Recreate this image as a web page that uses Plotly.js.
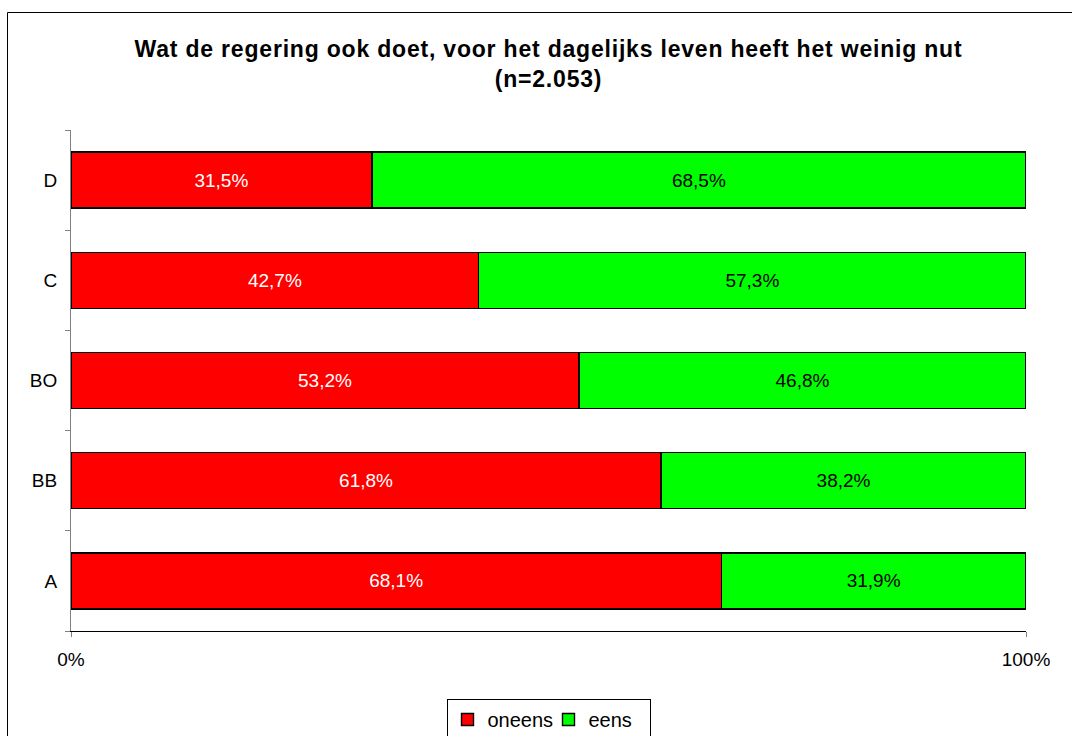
<!DOCTYPE html>
<html>
<head>
<meta charset="utf-8">
<script src="https://cdn.plot.ly/plotly-3.0.1.min.js"></script>
<style>
html,body{margin:0;padding:0;background:#fff;}
#chart{width:1072px;height:736px;}
#chart .gtitle{letter-spacing:0.8px;}
</style>
</head>
<body>
<div id="chart"></div>
<script>
const categories = ["A", "BB", "BO", "C", "D"];
const oneens = [68.1, 61.8, 53.2, 42.7, 31.5];
const eens = [31.9, 38.2, 46.8, 57.3, 68.5];
const seriesNames = ["oneens", "eens"];
const xTickVals = [0, 100];
const xTickText = ["0%", "100%"];
const titleText = "Wat de regering ook doet, voor het dagelijks leven heeft het weinig nut<br>(n=2.053)";

const fmt = v => v.toFixed(1).replace(".", ",") + "%";
const FONT = "Liberation Sans, Arial, sans-serif";
const FS = 19;

const traces = [
  {
    type: "bar", orientation: "h", name: seriesNames[0],
    y: categories, x: oneens,
    text: oneens.map(fmt), textposition: "inside", insidetextanchor: "middle",
    textfont: {color: "#ffffff", size: FS, family: FONT},
    marker: {color: "#ff0000", line: {color: "#000000", width: 1.4}},
    width: 0.56, hoverinfo: "none"
  },
  {
    type: "bar", orientation: "h", name: seriesNames[1],
    y: categories, x: eens,
    text: eens.map(fmt), textposition: "inside", insidetextanchor: "middle",
    textfont: {color: "#000000", size: FS, family: FONT},
    marker: {color: "#00ff00", line: {color: "#000000", width: 1.4}},
    width: 0.56, hoverinfo: "none"
  }
];

const W = 1072, H = 736, L = 71, R = 46, T = 130, B = 105;
const pw = W - L - R, ph = H - T - B;
const px = v => (v - L) / pw;
const py = v => (H - B - v) / ph;

const layout = {
  width: W, height: H,
  margin: {l: L, r: R, t: T, b: B, pad: 0, autoexpand: false},
  paper_bgcolor: "#ffffff", plot_bgcolor: "#ffffff",
  font: {family: FONT, size: FS, color: "#000000"},
  barmode: "stack",
  showlegend: true,
  title: {
    text: titleText, x: 0.5, xref: "paper", xanchor: "center",
    y: 1 - 57 / H, yanchor: "top",
    font: {family: FONT, size: 23, color: "#000000", weight: "bold"}
  },
  xaxis: {
    range: [0, 100], fixedrange: true,
    tickvals: xTickVals, ticktext: xTickText,
    ticks: "outside", ticklen: 5, tickcolor: "#808080", tickwidth: 1,
    showline: true, linecolor: "#000000", linewidth: 1.2,
    showgrid: false, zeroline: false,
    tickfont: {size: FS, family: FONT}, ticklabelstandoff: 6
  },
  yaxis: {
    type: "category", range: [-0.5, 4.5], fixedrange: true,
    tickson: "boundaries",
    ticks: "outside", ticklen: 5, tickcolor: "#808080", tickwidth: 1,
    showline: true, linecolor: "#808080", linewidth: 1,
    showgrid: false, zeroline: false,
    tickfont: {size: FS, family: FONT}, ticklabelstandoff: 9
  },
  legend: {
    orientation: "h", x: 0.5, xanchor: "center", xref: "paper",
    y: py(699), yanchor: "top",
    bordercolor: "#000000", borderwidth: 1, bgcolor: "#ffffff",
    font: {size: 20, family: FONT}, traceorder: "normal", itemwidth: 30,
    entrywidth: 56, entrywidthmode: "pixels"
  },
  shapes: [
    {type: "rect", xref: "paper", yref: "paper",
     x0: px(7.5), x1: px(1080), y0: py(12.5), y1: py(760),
     line: {color: "#000000", width: 1}, fillcolor: "rgba(0,0,0,0)", layer: "below"}
  ]
};

Plotly.newPlot("chart", traces, layout, {displayModeBar: false, staticPlot: true});
</script>
</body>
</html>
